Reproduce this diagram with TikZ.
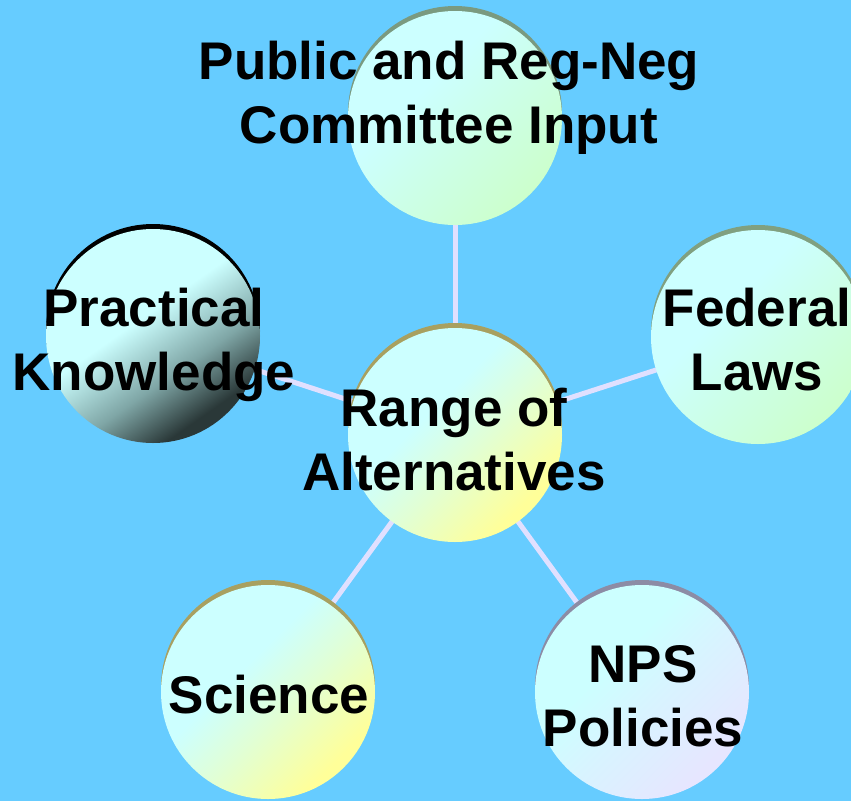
\documentclass[tikz,border=0pt]{standalone}
\usepackage{fontspec}
\setmainfont{Liberation Sans}
\definecolor{bg}{HTML}{66CCFF}
\definecolor{cC}{HTML}{CCFFFF}
\definecolor{cG}{HTML}{CCFFCC}
\definecolor{cY}{HTML}{FFFF99}
\definecolor{cL}{HTML}{E6E6FF}
\definecolor{cD}{HTML}{2A3838}
\definecolor{cM}{HTML}{7FA6A6}
\definecolor{link}{HTML}{E0E0FF}
\pgfdeclareverticalshading{shG}{100bp}{color(0bp)=(cG); color(25bp)=(cG); color(45bp)=(cC!55!cG); color(60bp)=(cC); color(100bp)=(cC)}
\pgfdeclareverticalshading{shY}{100bp}{color(0bp)=(cY); color(27bp)=(cY); color(45bp)=(cC!60!cY); color(58bp)=(cC); color(100bp)=(cC)}
\pgfdeclareverticalshading{shL}{100bp}{color(0bp)=(cL); color(27bp)=(cL); color(45bp)=(cC!50!cL); color(60bp)=(cC); color(100bp)=(cC)}
\pgfdeclareverticalshading{shD}{100bp}{color(0bp)=(cD); color(28bp)=(cD); color(40bp)=(cM); color(55bp)=(cC); color(100bp)=(cC)}
\tikzset{
  ball/.style={circle, minimum size=214pt, inner sep=0pt, shading angle=45},
  rim/.style={circle, minimum size=214pt, inner sep=0pt},
  lbl/.style={font=\fontsize{53}{64}\selectfont\bfseries, align=center, anchor=base, inner sep=0pt},
  conn/.style={draw=link, line width=5pt}
}
\begin{document}
\begin{tikzpicture}[x=1pt,y=-1pt]
\fill[bg] (0,0) rectangle (851,801);
\useasboundingbox (0,0) rectangle (851,801);
% centers
\coordinate (pTop) at (455,118);
\coordinate (pPrac) at (153,336);
\coordinate (pCen) at (455,435);
\coordinate (pFed) at (758,337);
\coordinate (pSci) at (268,692);
\coordinate (pNps) at (642,692);
% connectors
\draw[conn] (pCen) -- (pTop);
\draw[conn] (pCen) -- (pPrac);
\draw[conn] (pCen) -- (pFed);
\draw[conn] (pCen) -- (pSci);
\draw[conn] (pCen) -- (pNps);
% rims
\node[rim, fill={rgb,255:red,122;green,154;blue,128}] (rTop) at (455,113) {};
\node[rim, fill=black] (rPrac) at (153,331) {};
\node[rim, fill={rgb,255:red,168;green,160;blue,96}] (rCen) at (455,430) {};
\node[rim, fill={rgb,255:red,128;green,160;blue,128}] (rFed) at (758,332) {};
\node[rim, fill={rgb,255:red,168;green,160;blue,96}] (rSci) at (268,687) {};
\node[rim, fill={rgb,255:red,140;green,140;blue,165}] (rNps) at (642,687) {};
% balls
\node[ball, shading=shG] (top) at (pTop) {};
\node[ball, shading=shD, shading angle=35] (prac) at (pPrac) {};
\node[ball, shading=shY] (cen) at (pCen) {};
\node[ball, shading=shG] (fed) at (pFed) {};
\node[ball, shading=shY] (sci) at (pSci) {};
\node[ball, shading=shL] (nps) at (pNps) {};
% labels
\node[lbl] (tTop) at (449,143) {Public and Reg-Neg\\Committee Input};
\node[lbl] (tPrac) at (154,390) {Practical\\Knowledge};
\node[lbl] (tCen) at (454,490) {Range of\\Alternatives};
\node[lbl] (tFed) at (757,390) {Federal\\Laws};
\node[lbl] (tSci) at (269,713) {Science};
\node[lbl] (tNps) at (643,746) {NPS\\Policies};
\end{tikzpicture}
\end{document}
